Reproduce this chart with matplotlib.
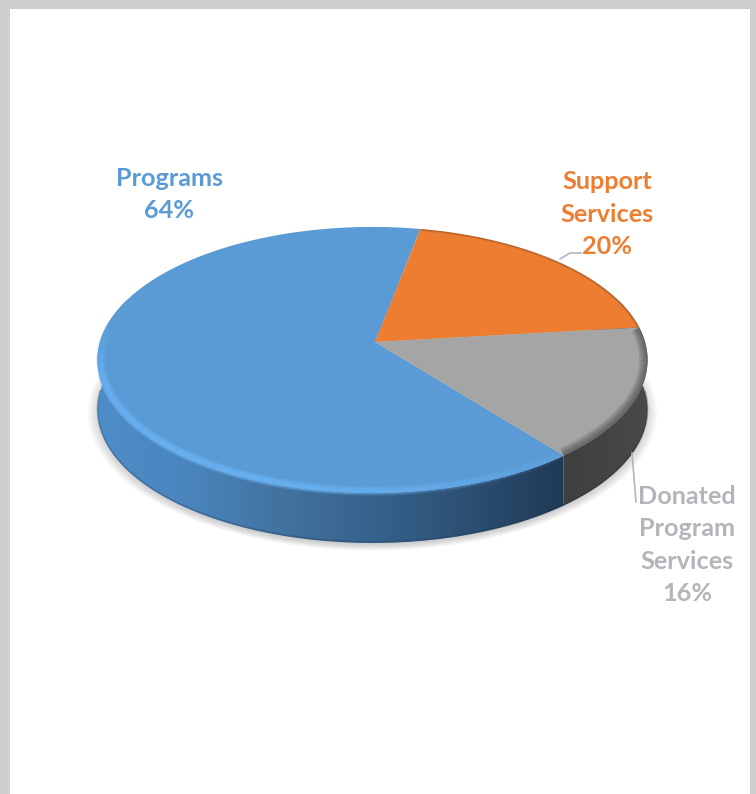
import numpy as np
import matplotlib
matplotlib.use("Agg")
import matplotlib.pyplot as plt
from matplotlib.patches import Polygon, Rectangle, PathPatch
from matplotlib.path import Path
from matplotlib.collections import LineCollection
from matplotlib.colors import LinearSegmentedColormap

plt.rcParams['font.family'] = ['Lato', 'DejaVu Sans']

categories = ["Programs", "Support\nServices", "Donated\nProgram\nServices"]
values = [64, 20, 16]
top_colors = ["#5B9BD5", "#ED7D31", "#A5A5A5"]
label_colors = ["#5B9BD5", "#ED7D31", "#B3B5BA"]

# pie geometry, in pixels
cx, cy = 372.5, 342
apex_x = 375
a, b, k = 272.5, 130.6, 0.135
depth = 50
start = 78.5    # degrees, blue/orange edge


def rim(t, r=1.0):
    x = r * np.cos(t)
    y = r * np.sin(t)
    w = 1 + k * y
    return np.column_stack([cx + a * x / w, cy - b * y / w])


fig = plt.figure(figsize=(7.56, 7.94), dpi=100)
ax = fig.add_axes([0, 0, 1, 1])

# slice angle ranges, going clockwise from the blue/orange edge
fr = np.array(values) / sum(values)
t_orange = np.radians(start)
t_grey = t_orange - 2 * np.pi * fr[1]
t_blue = t_grey - 2 * np.pi * fr[2]
t_left = np.radians(-190)
ranges = [
    np.linspace(t_blue, t_blue - 2 * np.pi * fr[0], 400),
    np.linspace(t_orange, t_grey, 150),
    np.linspace(t_grey, t_blue, 150),
]
x_split = rim(np.array([t_blue]))[0, 0]

# soft shadow under the disc
full = rim(np.linspace(0, 2 * np.pi, 300))
mid = np.array([cx, 360])
for s in np.linspace(1.035, 0.985, 14):
    pts = mid + (full - mid) * s + [0, depth + 3]
    ax.add_patch(Polygon(pts, closed=True, fc="#8A8A8A", ec="none", alpha=0.035, zorder=1))


def wall(t, colors, x0, x1):
    top = rim(t)
    pts = np.vstack([top, (top + [0, depth])[::-1]])
    patch = PathPatch(Path(np.vstack([pts, pts[0]])), fc="none", ec="none", zorder=2)
    ax.add_patch(patch)
    cmap = LinearSegmentedColormap.from_list("w", colors)
    im = ax.imshow(np.linspace(0, 1, 256)[None, :], cmap=cmap, aspect="auto",
                   extent=[x0, x1, 600, 300], zorder=2)
    im.set_clip_path(patch)


wall(ranges[0], ["#4E8DC8", "#4A85BD", "#42729E", "#36628C", "#2C4F72", "#1F3A56"], 97, x_split)
wall(ranges[2], ["#3F3F3F", "#4A4A4A"], x_split, 650)
wall(ranges[1], ["#4A4A4A", "#4A4A4A"], x_split, 650)

# dark bottom edge of the wall
for t, col in [(np.linspace(t_blue, np.radians(-180), 300), "#1F3A56"), (np.linspace(t_blue, 0, 100), "#2A2A2A")]:
    edge = rim(t) + [0, depth - 1]
    ax.plot(edge[:, 0], edge[:, 1], color=col, lw=1.2, alpha=0.3, zorder=2.5)

# top faces
apex = np.array([[apex_x, cy]])
faces = []
for t, col in zip(ranges, top_colors):
    p = Polygon(np.vstack([apex, rim(t)]), closed=True, fc=col, ec="none", zorder=3)
    ax.add_patch(p)
    faces.append(p)


def bevel(t, color, r, widths, alpha, fade=None, clip=None):
    pts = rim(t, r)
    segs = np.stack([pts[:-1], pts[1:]], axis=1)
    rgba = np.tile(matplotlib.colors.to_rgba(color), (len(segs), 1))
    rgba[:, 3] = alpha if fade is None else alpha * fade(t[:-1])
    for w in widths:
        lc = LineCollection(segs, colors=rgba, linewidths=w, capstyle="butt", zorder=4)
        ax.add_collection(lc)
        if clip is not None:
            lc.set_clip_path(clip)


# bevel on the front of the rim, strongest low on the left
bevel(np.linspace(t_blue, t_left, 400), "#6DB6F8", 0.988, np.arange(1, 8), 0.23,
      lambda t: np.clip((t - t_left) / 0.5, 0, 1) * (0.2 + 0.8 * np.clip((t_blue - t) / 1.0, 0, 1)))
bevel(ranges[2], "#303030", 1.0, np.arange(2, 14, 2), 0.11, clip=faces[2])
bevel(ranges[1], "#5A3A20", 1.0, [1, 2, 3], 0.14, clip=faces[1])

# leader lines
ax.plot([560, 570, 581], [259, 253, 253], color="#B3B5BA", lw=1.2, zorder=5)
ax.plot([632, 636], [453, 502], color="#B3B5BA", lw=1.2, zorder=5)

# data labels
label_pos = [(169, 194.5), (607, 214), (687, 545)]
for name, val, col, (x, y) in zip(categories, values, label_colors, label_pos):
    ax.text(x, y, "%s\n%d%%" % (name, val), color=col, fontsize=18.2, fontweight="bold",
            ha="center", va="center", linespacing=1.5, zorder=6)

# page border
for rect in [(0, 0, 756, 9), (0, 0, 10, 794), (750, 0, 6, 794)]:
    ax.add_patch(Rectangle(rect[:2], rect[2], rect[3], fc="#D0CECE", ec="none", zorder=7))

ax.set_xlim(0, 756)
ax.set_ylim(794, 0)
ax.axis("off")
fig.savefig("out.png", dpi=100)
